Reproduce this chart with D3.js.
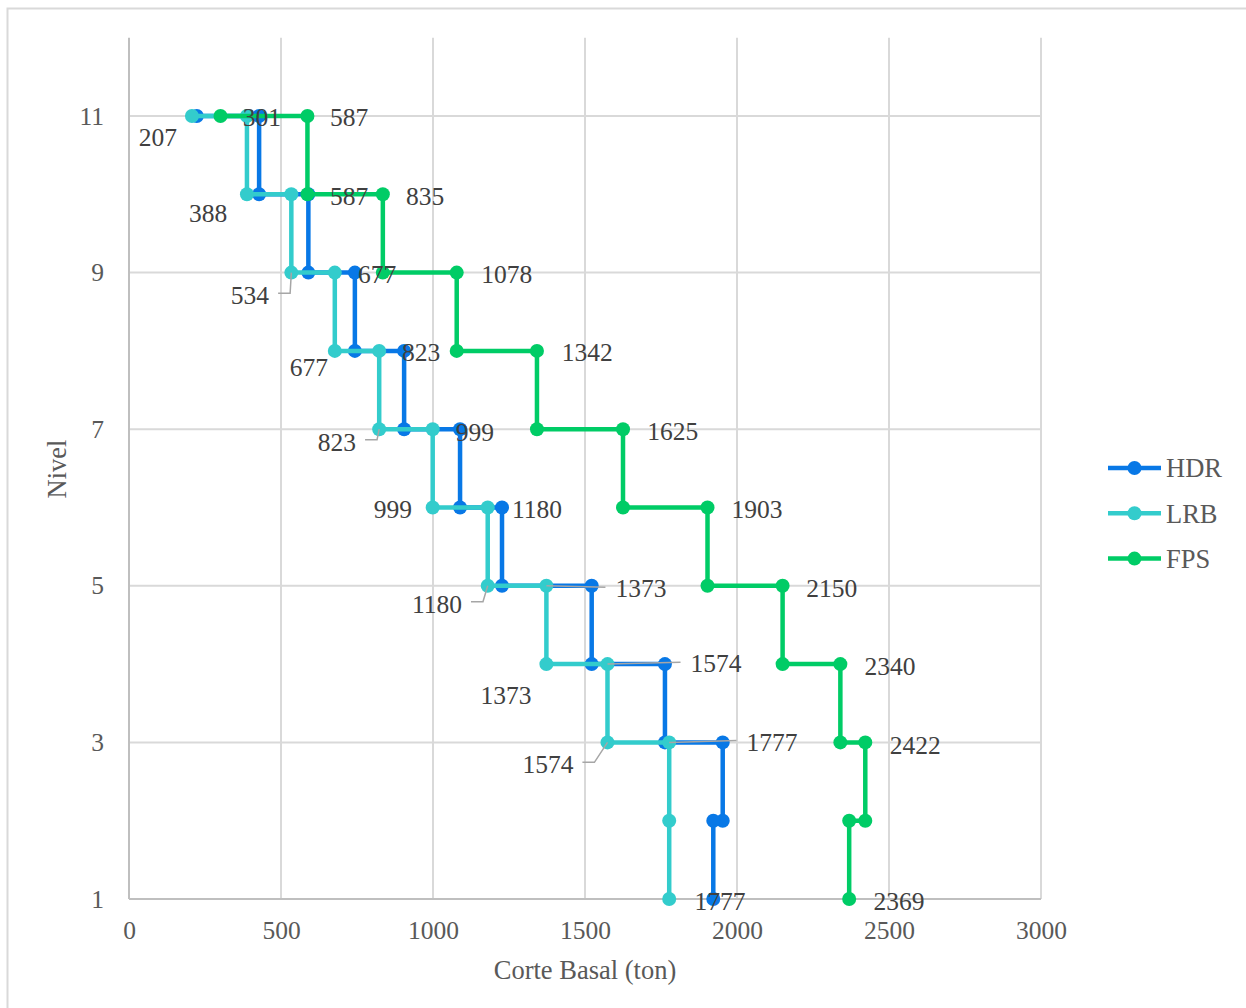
<!DOCTYPE html>
<html>
<head>
<meta charset="utf-8">
<script src="https://cdn.jsdelivr.net/npm/d3@7"></script>
<style>
  html, body { margin: 0; padding: 0; background: #ffffff; }
  svg { display: block; }
</style>
</head>
<body>
<svg id="chart" width="1246" height="1008"></svg>
<script>
// ---------------- DATA ----------------
const seriesNames = ["HDR", "LRB", "FPS"];

const hdrShear = [223, 428, 428, 590, 590, 743, 743, 905, 905, 1089, 1089, 1227, 1227, 1522, 1522, 1763, 1763, 1953, 1953, 1922, 1922];
const hdrLevel = [11, 11, 10, 10, 9, 9, 8, 8, 7, 7, 6, 6, 5, 5, 4, 4, 3, 3, 2, 2, 1];

const lrbShear = [207, 388, 388, 534, 534, 677, 677, 823, 823, 999, 999, 1180, 1180, 1373, 1373, 1574, 1574, 1777, 1777, 1777];
const lrbLevel = [11, 11, 10, 10, 9, 9, 8, 8, 7, 7, 6, 6, 5, 5, 4, 4, 3, 3, 2, 1];

const fpsShear = [301, 587, 587, 835, 835, 1078, 1078, 1342, 1342, 1625, 1625, 1903, 1903, 2150, 2150, 2340, 2340, 2422, 2422, 2369, 2369];
const fpsLevel = [11, 11, 10, 10, 9, 9, 8, 8, 7, 7, 6, 6, 5, 5, 4, 4, 3, 3, 2, 2, 1];

const xTicks = [0, 500, 1000, 1500, 2000, 2500, 3000];
const yTicks = [1, 3, 5, 7, 9, 11];

// data labels: text, anchor point (shear, level), label centre (shear, level) in data units, leader kind
const labelText   = ["207","301","587","388","587","835","534","677","1078","677","823","1342","823","999","1625","999","1180","1903","1180","1373","2150","1373","1574","2340","1574","1777","2422","1777","2369"];
const labelAnchorX = [207, 301, 587, 388, 587, 835, 534, 677, 1078, 677, 823, 1342, 823, 999, 1625, 999, 1180, 1903, 1180, 1373, 2150, 1373, 1574, 2340, 1574, 1777, 2422, 1777, 2369];
const labelAnchorY = [11, 11, 11, 10, 10, 10, 9, 9, 9, 8, 8, 8, 7, 7, 7, 6, 6, 6, 5, 5, 5, 4, 4, 4, 3, 3, 3, 1, 1];
const labelCenterX = [95, 437, 724, 260, 724, 974, 398, 816, 1243, 592, 961, 1507, 684, 1138, 1789, 868, 1342, 2066, 1013, 1684, 2312, 1240, 1931, 2503, 1378, 2115, 2586, 1944, 2533];
const labelCenterY = [10.73, 10.98, 10.99, 9.76, 9.98, 9.98, 8.71, 8.98, 8.98, 7.79, 7.99, 7.99, 6.84, 6.96, 6.98, 5.98, 5.98, 5.98, 4.77, 4.97, 4.97, 3.61, 4.01, 3.98, 2.72, 3.01, 2.97, 0.97, 0.97];
const labelLeader = ["","","","","","","left","","","","","","left","","","","","","left","right","","","right","","left","right","","",""];

// ---------------- STYLE ----------------
const colors = { HDR: "#0878e6", LRB: "#33cccc", FPS: "#00cc66" };
const fontFam = "'Liberation Serif', 'Times New Roman', serif";

const svg = d3.select("#chart");

// outer chart border
svg.append("rect")
  .attr("x", 7.5).attr("y", 8.5).attr("width", 1400).attr("height", 1100)
  .attr("fill", "none").attr("stroke", "#d9d9d9").attr("stroke-width", 2);

const x = d3.scaleLinear().domain([0, 3000]).range([129, 1041]);
const y = d3.scaleLinear().domain([1, 12]).range([899, 37.7]);

// gridlines
const grid = svg.append("g");
grid.selectAll("line.v").data(xTicks.filter(d => d > 0)).enter().append("line")
  .attr("x1", d => x(d)).attr("x2", d => x(d))
  .attr("y1", y(12)).attr("y2", y(1))
  .attr("stroke", "#d9d9d9").attr("stroke-width", 2);
grid.selectAll("line.h").data(yTicks.filter(d => d > 1)).enter().append("line")
  .attr("x1", x(0)).attr("x2", x(3000))
  .attr("y1", d => y(d)).attr("y2", d => y(d))
  .attr("stroke", "#d9d9d9").attr("stroke-width", 2);

// axis lines
svg.append("line").attr("x1", x(0)).attr("x2", x(0)).attr("y1", y(12)).attr("y2", y(1))
  .attr("stroke", "#bfbfbf").attr("stroke-width", 2);
svg.append("line").attr("x1", x(0)).attr("x2", x(3000)).attr("y1", y(1)).attr("y2", y(1))
  .attr("stroke", "#bfbfbf").attr("stroke-width", 2);

// tick labels via d3 axes
const xAxis = svg.append("g").attr("transform", `translate(0,${y(1)})`)
  .call(d3.axisBottom(x).tickValues(xTicks).tickSize(0).tickPadding(22).tickFormat(d3.format("d")));
const yAxis = svg.append("g").attr("transform", `translate(${x(0)},0)`)
  .call(d3.axisLeft(y).tickValues(yTicks).tickSize(0).tickPadding(25).tickFormat(d3.format("d")));
[xAxis, yAxis].forEach(g => {
  g.select(".domain").remove();
  g.selectAll("text").attr("font-family", fontFam).attr("font-size", 25.5).attr("fill", "#595959");
});
xAxis.selectAll("text").attr("dy", "0.71em");

// series
const series = [
  { name: "HDR", xs: hdrShear, ys: hdrLevel },
  { name: "LRB", xs: lrbShear, ys: lrbLevel },
  { name: "FPS", xs: fpsShear, ys: fpsLevel }
];
const line = d3.line().x(d => x(d[0])).y(d => y(d[1]));
series.forEach(s => {
  const pts = s.xs.map((v, i) => [v, s.ys[i]]);
  const g = svg.append("g");
  g.append("path").attr("d", line(pts)).attr("fill", "none")
    .attr("stroke", colors[s.name]).attr("stroke-width", 4.5).attr("stroke-linejoin", "round");
  g.selectAll("circle").data(pts).enter().append("circle")
    .attr("cx", d => x(d[0])).attr("cy", d => y(d[1])).attr("r", 7)
    .attr("fill", colors[s.name]);
});

// data labels
const lg = svg.append("g");
labelText.forEach((t, i) => {
  const cx = x(labelCenterX[i]), cy = y(labelCenterY[i]);
  const txt = lg.append("text").text(t)
    .attr("x", cx).attr("y", cy).attr("dy", "0.35em")
    .attr("text-anchor", "middle")
    .attr("font-family", fontFam).attr("font-size", 25.5).attr("fill", "#404040");
  const w = txt.node().getComputedTextLength();
  const ax = x(labelAnchorX[i]), ay = y(labelAnchorY[i]);
  if (labelLeader[i] === "left") {
    const endX = cx + w / 2 + 9, ly = cy - 2;
    lg.insert("polyline", "text")
      .attr("points", [[ax, ay], [endX + 12, ly], [endX, ly]].map(p => p.join(",")).join(" "))
      .attr("fill", "none").attr("stroke", "#a6a6a6").attr("stroke-width", 1.5);
  } else if (labelLeader[i] === "right") {
    const endX = cx - w / 2 - 10, ly = cy - 1;
    lg.insert("polyline", "text")
      .attr("points", [[ax, ay], [endX, ly]].map(p => p.join(",")).join(" "))
      .attr("fill", "none").attr("stroke", "#a6a6a6").attr("stroke-width", 1.5);
  }
});

// legend
const legend = svg.append("g").attr("transform", "translate(1108,468)");
seriesNames.forEach((n, i) => {
  const g = legend.append("g").attr("transform", `translate(0,${i * 45.3})`);
  g.append("line").attr("x1", 0).attr("x2", 53).attr("y1", 0).attr("y2", 0)
    .attr("stroke", colors[n]).attr("stroke-width", 4.5);
  g.append("circle").attr("cx", 26.5).attr("cy", 0).attr("r", 7).attr("fill", colors[n]);
  g.append("text").text(n).attr("x", 58).attr("y", 0).attr("dy", "0.35em")
    .attr("font-family", fontFam).attr("font-size", 26.5).attr("fill", "#595959");
});

// axis titles
svg.append("text").text("Corte Basal (ton)")
  .attr("x", 585).attr("y", 970).attr("dy", "0.35em").attr("text-anchor", "middle")
  .attr("font-family", fontFam).attr("font-size", 26.5).attr("fill", "#595959");
svg.append("text").text("Nivel")
  .attr("transform", "translate(57,469) rotate(-90)").attr("dy", "0.35em").attr("text-anchor", "middle")
  .attr("font-family", fontFam).attr("font-size", 26.5).attr("fill", "#595959");
</script>
</body>
</html>
